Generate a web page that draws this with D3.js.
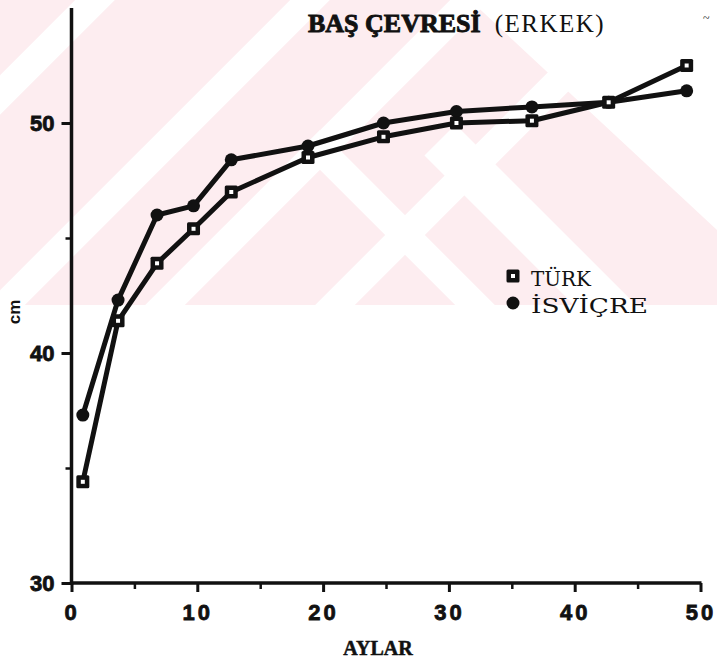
<!DOCTYPE html>
<html><head><meta charset="utf-8">
<script src="https://cdn.jsdelivr.net/npm/d3@7"></script>
<style>body{margin:0;background:#fff}svg{display:block}</style></head>
<body><svg id="c" width="717" height="663"></svg>
<script>
// ---- data ----
const months   = [0.9, 3.7, 6.8, 9.7, 12.7, 18.8, 24.8, 30.6, 36.6, 42.7, 48.9];
const turk     = [34.4, 41.4, 43.9, 45.4, 47.0, 48.5, 49.4, 50.0, 50.1, 50.9, 52.5];
const isvicre  = [37.3, 42.3, 46.0, 46.4, 48.4, 49.0, 50.0, 50.5, 50.7, 50.9, 51.4];
const seriesNames = ["TÜRK", "İSVİÇRE"];
const yTicks  = [30, 40, 50];
const yMinor  = [35, 45];
const xTicks  = [0, 10, 20, 30, 40, 50];
const xMinor  = [5, 15, 25, 35, 45];
const titleMain = "BAŞ ÇEVRESİ";
const titleSub  = "(ERKEK)";
const xLabel = "AYLAR";
const yLabel = "cm";

const svg = d3.select("#c");
const W = 717, H = 663;

// ---- faint watermark background ----
const bg = svg.append("g");
bg.append("clipPath").attr("id","wm").append("rect").attr("x",0).attr("y",0).attr("width",W).attr("height",305);
const wm = bg.append("g").attr("clip-path","url(#wm)");
wm.append("rect").attr("x",0).attr("y",0).attr("width",W).attr("height",305).attr("fill","#fdedf0");
[95, 310, 470, 640].forEach(c => {
  wm.append("path").attr("d",`M${c-400},400 L${c+400},-400`).attr("stroke","#fff").attr("stroke-width",28);
});
[[300, 44], [170, 28]].forEach(([c,w]) => {
  wm.append("path").attr("d",`M${c+140},140 L${c+520},520`).attr("stroke","#fff").attr("stroke-width",w);
});
wm.append("path").attr("d","M470,0 L717,0 L717,230 Z").attr("fill","#fff");

// ---- scales ----
const x = d3.scaleLinear().domain([0, 50]).range([71.5, 700.5]);
const y = d3.scaleLinear().domain([30, 55]).range([583, 8]);

const ink = "#111";
const sans = "Liberation Sans, Arial, sans-serif";
const serif = "Liberation Serif, Times New Roman, serif";

// ---- axes ----
const gY = svg.append("g").attr("transform", `translate(${x(0)},0)`)
  .call(d3.axisLeft(y).tickValues(yTicks).tickSize(10).tickPadding(7).tickFormat(d3.format("d")));
gY.select(".domain").remove();
gY.selectAll(".tick line").attr("stroke", ink).attr("stroke-width", 3);
gY.selectAll(".tick text").attr("fill", ink).attr("font-family", sans)
  .attr("font-weight","bold").attr("font-size",22).attr("stroke", ink).attr("stroke-width", 0.8);
svg.append("g").attr("transform", `translate(${x(0)},0)`)
  .call(d3.axisLeft(y).tickValues(yMinor).tickSize(6).tickFormat(""))
  .call(g => g.select(".domain").remove())
  .selectAll(".tick line").attr("stroke", ink).attr("stroke-width", 2.5);

const gX = svg.append("g").attr("transform", `translate(0,${y(30)})`)
  .call(d3.axisBottom(x).tickValues(xTicks).tickSize(9).tickPadding(12).tickFormat(d3.format("d")));
gX.select(".domain").remove();
gX.selectAll(".tick line").attr("stroke", ink).attr("stroke-width", 3);
gX.selectAll(".tick text").attr("fill", ink).attr("font-family", sans)
  .attr("font-weight","bold").attr("font-size",22).attr("letter-spacing","3px")
  .attr("stroke", ink).attr("stroke-width", 0.8);
svg.append("g").attr("transform", `translate(0,${y(30)})`)
  .call(d3.axisBottom(x).tickValues(xMinor).tickSize(6).tickFormat(""))
  .call(g => g.select(".domain").remove())
  .selectAll(".tick line").attr("stroke", ink).attr("stroke-width", 2.5);

// axis lines
svg.append("line").attr("x1", x(0)).attr("x2", x(0)).attr("y1", y(55)).attr("y2", y(30) + 2)
  .attr("stroke", ink).attr("stroke-width", 3.5);
svg.append("line").attr("x1", x(0) - 1).attr("x2", x(50) + 1).attr("y1", y(30)).attr("y2", y(30))
  .attr("stroke", ink).attr("stroke-width", 3.5);

// ---- lines ----
const line = d3.line().x(d => x(d[0])).y(d => y(d[1]));
const turkPts = months.map((m, i) => [m, turk[i]]);
const isvPts  = months.map((m, i) => [m, isvicre[i]]);
[isvPts, turkPts].forEach(pts => {
  svg.append("path").datum(pts).attr("d", line).attr("fill","none")
    .attr("stroke", ink).attr("stroke-width", 5).attr("stroke-linejoin","round");
});

// markers
function drawSquare(g, cx, cy) {
  g.append("rect").attr("x", cx - 6.5).attr("y", cy - 6.5).attr("width", 13).attr("height", 13)
    .attr("rx", 1.5).attr("fill", ink);
  g.append("rect").attr("x", cx - 2).attr("y", cy - 2).attr("width", 4).attr("height", 4).attr("fill", "#fff");
}
function drawDot(g, cx, cy) {
  g.append("circle").attr("cx", cx).attr("cy", cy).attr("r", 6.5).attr("fill", ink);
}
const mk = svg.append("g");
isvPts.forEach(d => drawDot(mk, x(d[0]), y(d[1])));
turkPts.forEach(d => drawSquare(mk, x(d[0]), y(d[1])));

// ---- legend ----
const lg = svg.append("g");
drawSquare(lg, 513, 276);
drawDot(lg, 513, 303);
lg.append("text").attr("x", 531).attr("y", 286).attr("textLength", 60).attr("lengthAdjust","spacingAndGlyphs").text(seriesNames[0]);
lg.append("text").attr("x", 531).attr("y", 313).attr("textLength", 117).attr("lengthAdjust","spacingAndGlyphs").text(seriesNames[1]);
lg.selectAll("text").attr("font-family","DejaVu Serif, serif")
  .attr("font-size", 20).attr("fill", ink);

// ---- titles ----
const t = svg.append("text").attr("x", 308).attr("y", 32).attr("fill", ink)
  .attr("font-family", serif);
t.append("tspan").attr("font-weight","bold").attr("font-size", 26)
  .attr("stroke", ink).attr("stroke-width", 0.9).text(titleMain);
t.append("tspan").attr("dx", 14).attr("font-size", 25).attr("letter-spacing","1.5px").text(titleSub);

svg.append("text").attr("x", 703).attr("y", 22).attr("fill", ink).attr("font-family", serif)
  .attr("font-size", 12).text("~");

svg.append("text").attr("x", 378).attr("y", 655).attr("text-anchor","middle").attr("fill", ink)
  .attr("font-family", serif).attr("font-weight","bold").attr("stroke", ink).attr("stroke-width", 0.5)
  .attr("font-size", 20).text(xLabel);

svg.append("text").attr("transform","translate(20,312) rotate(-90)").attr("text-anchor","middle")
  .attr("fill", ink).attr("font-family", sans).attr("font-weight","bold")
  .attr("font-size", 17).text(yLabel);
</script></body></html>
